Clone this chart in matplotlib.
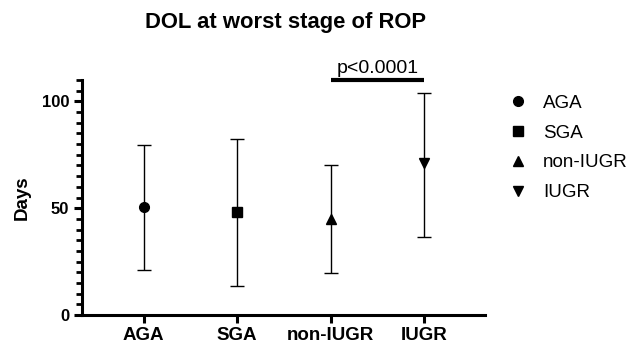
import matplotlib
matplotlib.use("Agg")
import matplotlib.pyplot as plt
from matplotlib.lines import Line2D
from matplotlib.ticker import MultipleLocator

plt.rcParams['font.family'] = ['Liberation Sans', 'DejaVu Sans']

categories = ["AGA", "SGA", "non-IUGR", "IUGR"]
means = [50.4, 48.4, 44.9, 71.0]
upper = [79.7, 82.6, 70.4, 104.0]
lower = [21.1, 13.8, 19.7, 36.5]
markers = ["o", "s", "^", "v"]
sig_label = "p<0.0001"

fig = plt.figure(figsize=(6.34, 3.45), dpi=100)
ax = fig.add_axes([0.129, 0.087, 0.636, 0.681])

x = list(range(len(categories)))
for i in x:
    err = [[means[i] - lower[i]], [upper[i] - means[i]]]
    ax.errorbar([i], [means[i]], yerr=err, fmt=markers[i], color="black",
                ms=7, elinewidth=1.0, capsize=5, capthick=1.0)

ax.set_xlim(-0.66, 3.65)
ax.set_ylim(0, 110)
ax.set_yticks([0, 50, 100])
ax.yaxis.set_minor_locator(MultipleLocator(5))
ax.set_xticks(x)
ax.set_xticklabels(categories, fontsize=13.5, fontweight="bold")
for lab in ax.get_yticklabels():
    lab.set_fontsize(12)
    lab.set_fontweight("bold")

for s in ["top", "right"]:
    ax.spines[s].set_visible(False)
for s in ["left", "bottom"]:
    ax.spines[s].set_linewidth(2.2)
ax.tick_params(axis="both", which="major", width=2.2, length=6, pad=3)
ax.tick_params(axis="y", which="minor", width=2.0, length=4)

ax.set_ylabel("Days", fontsize=13.5, fontweight="bold", labelpad=8)
fig.suptitle("DOL at worst stage of ROP", fontsize=15.8, fontweight="bold", x=0.45, y=0.965)

# significance bar
ax.plot([2, 3], [110, 110], color="black", lw=3, clip_on=False, solid_capstyle="butt")
ax.text(2.5, 111.5, sig_label, ha="center", va="bottom", fontsize=14)

handles = [Line2D([], [], marker=m, color="black", ls="none", ms=7) for m in markers]
fig.legend(handles, categories, loc="upper left", bbox_to_anchor=(0.768, 0.775),
           frameon=False, fontsize=13.5, handletextpad=0.6, labelspacing=0.68,
           handlelength=1.5)

fig.savefig("out.png", dpi=100)
